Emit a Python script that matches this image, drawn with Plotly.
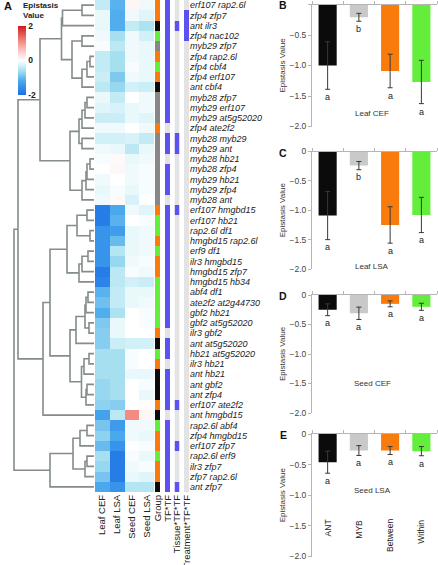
import plotly.graph_objects as go

W, H = 438, 565

# ---------------- data: heatmap (panel A) ----------------
row_labels = [
    "erf107 rap2.6l", "zfp4 zfp7", "ant ilr3", "zfp4 nac102", "myb29 zfp7",
    "zfp4 rap2.6l", "zfp4 cbf4", "zfp4 erf107", "ant cbf4", "myb28 zfp7",
    "myb29 erf107", "myb29 at5g52020", "zfp4 ate2f2", "myb28 myb29", "myb29 ant",
    "myb28 hb21", "myb28 zfp4", "myb29 hb21", "myb29 zfp4", "myb28 ant",
    "erf107 hmgbd15", "erf107 hb21", "rap2.6l df1", "hmgbd15 rap2.6l", "erf9 df1",
    "ilr3 hmgbd15", "hmgbd15 zfp7", "hmgbd15 hb34", "abf4 df1", "ate2f2 at2g44730",
    "gbf2 hb21", "gbf2 at5g52020", "ilr3 gbf2", "ant at5g52020", "hb21 at5g52020",
    "ilr3 hb21", "ant hb21", "ant gbf2", "ant zfp4", "erf107 ate2f2",
    "ant hmgbd15", "rap2.6l abf4", "zfp4 hmgbd15", "erf107 zfp7", "rap2.6l erf9",
    "ilr3 zfp7", "zfp7 rap2.6l", "ant zfp7",
]
heat_columns = ["Leaf CEF", "Leaf LSA", "Seed CEF", "Seed LSA"]
leaf_cef = [-0.4, -0.15, -0.15, -0.1, -0.05, -0.4, -0.4, -0.35, -0.45, -0.15,
            -0.2, -0.35, -0.1, -0.3, -0.1, -0.05, 0.0, -0.1, -0.15, -0.1,
            -1.8, -1.8, -1.5, -1.5, -1.5, -1.5, -1.8, -1.7, -1.1, -0.95,
            -1.15, -0.85, -0.8, -0.8, -0.6, -0.6, -0.6, -0.7, -0.7, -0.75,
            -1.3, -0.9, -0.75, -1.0, -0.6, -0.7, -0.9, -1.2]
leaf_lsa = [-1.1, -1.15, -1.15, -0.6, -0.45, -0.6, -0.6, -0.85, -0.7, -0.4,
            -0.25, -0.35, -0.1, -0.3, -0.15, 0.05, 0.08, 0.0, -0.05, 0.05,
            -1.2, -1.1, -1.35, -1.0, -0.5, -0.7, -0.45, -0.45, -0.4, -0.4,
            -0.55, -0.15, -0.15, -0.35, -0.6, -0.6, -0.6, -0.6, -0.6, -0.8,
            -0.45, -1.4, -1.2, -1.5, -1.8, -1.8, -1.8, -1.5]
seed_cef = [0.1, -0.1, -0.4, -0.1, -0.1, -0.1, -0.05, -0.1, -0.3, 0.0,
            -0.15, -0.15, 0.0, -0.25, -0.45, -0.15, -0.1, -0.1, -0.15, -0.25,
            -0.1, 0.0, -0.15, -0.15, -0.15, -0.1, -0.05, -0.3, -0.15, -0.15,
            0.0, 0.0, 0.0, -0.3, -0.05, -0.05, -0.15, 0.0, 0.0, 0.0,
            1.1, -0.1, -0.1, -0.02, -0.05, -0.1, -0.15, -0.5]
seed_lsa = [-0.1, -0.2, -0.55, -0.3, -0.15, -0.15, -0.15, -0.15, -0.35, -0.1,
            -0.1, -0.2, -0.1, -0.4, -0.15, -0.1, -0.05, -0.05, -0.05, 0.0,
            -0.2, -0.05, -0.1, -0.1, -0.1, -0.05, -0.1, -0.35, -0.15, -0.1,
            -0.05, -0.05, 0.0, -0.3, 0.0, 0.0, -0.15, -0.05, -0.15, 0.03,
            0.1, -0.1, -0.15, -0.05, -0.15, -0.05, -0.2, -0.5]
group = ["Between", "Between", "ANT", "Within", "MYB", "Between", "Within", "Between", "ANT", "MYB",
         "MYB", "MYB", "Between", "MYB", "MYB", "MYB", "MYB", "MYB", "MYB", "MYB",
         "Between", "Within", "Within", "Between", "Within", "Between", "Between", "Within", "Within", "Within",
         "Within", "Within", "Between", "ANT", "Within", "Between", "ANT", "ANT", "ANT", "Between",
         "ANT", "Within", "Between", "Between", "Within", "Between", "Between", "ANT"]
tf_tf = [1, 1, 1, 1, 1, 1, 1, 1, 1, 1, 1, 1, 0, 1, 1, 0, 1, 1, 1, 0,
         1, 1, 1, 1, 1, 1, 1, 1, 1, 1, 1, 1, 0, 1, 1, 0, 1, 1, 1, 1,
         0, 1, 1, 1, 1, 1, 1, 1]
tissue_tf_tf = [0, 0, 1, 0, 0, 0, 0, 0, 0, 0, 0, 0, 0, 1, 1, 0, 0, 0, 0, 0,
                1, 0, 0, 0, 0, 0, 0, 0, 0, 0, 0, 0, 0, 0, 0, 0, 0, 0, 0, 1,
                0, 0, 0, 1, 0, 0, 0, 1]
treatment_tf_tf = [0, 1, 1, 1, 0, 0, 0, 0, 0, 0, 0, 0, 0, 0, 0, 0, 0, 0, 0, 0,
                   0, 0, 0, 0, 0, 0, 0, 0, 0, 0, 0, 0, 0, 0, 0, 0, 0, 0, 0, 0,
                   0, 0, 0, 0, 0, 0, 0, 0]

# dendrogram: (height, left, right); leaves are 1-based row numbers
dendro_tree = (80,
    (76,
        (54,
            (32.5, (31.5, (12, 1, 2), 3),
                   (22, (12, 4, 5), (12, (7, (4, 6, 7), 8), 9))),
            (24, (15, (12, (9, (7, 10, 11), 12), 13), (12, 14, 15)),
                 (12, (8, (7, (4, 16, 17), 18), 19), 20))),
        (51,
            (44,
                (27, (17, (7, 21, 22), (4, 23, 24)),
                     (15, (12, (6, 25, 26), 27), 28)),
                (24, (18, (9, (8, (6, 29, 30), 31), (5, 32, 33)), 34),
                     (12.5, (10, (5, 35, 36), 37), (8, (7, 38, 39), 40)))),
            41)),
    (44, (21, (14, (7, 42, 43), 44), (9, (7, 45, 46), 47)), 48))

# ---------------- data: bar panels B-E ----------------
bar_categories = ["ANT", "MYB", "Between", "Within"]
panel_names = ["Leaf CEF", "Leaf LSA", "Seed CEF", "Seed LSA"]
panel_letters = ["B", "C", "D", "E"]
bar_means = [
    [-1.0, -0.21, -1.09, -1.27],
    [-1.09, -0.24, -1.25, -1.08],
    [-0.25, -0.31, -0.15, -0.20],
    [-0.46, -0.27, -0.27, -0.28],
]
bar_errors = [
    [0.39, 0.065, 0.275, 0.355],
    [0.41, 0.07, 0.31, 0.30],
    [0.10, 0.105, 0.05, 0.06],
    [0.18, 0.08, 0.065, 0.075],
]
bar_letters = [
    ["a", "b", "a", "a"],
    ["a", "b", "a", "a"],
    ["a", "a", "a", "a"],
    ["a", "a", "a", "a"],
]
y_ticks = [0, -0.5, -1.0, -1.5, -2.0]
y_ticktext = ["0", "\u22120.5", "\u22121.0", "\u22121.5", "\u22122.0"]
panel_title_y = [-1.78, -1.95, -1.5, -0.93]

# ---------------- styling ----------------
FONT = "Arial, Liberation Sans, sans-serif"
ORANGE = "#f97b0b"
GREEN = "#62ee3a"
BLACK = "#0b0b0b"
GROUPGRAY = "#878787"
MYBGRAY = "#c9c9c9"
BLUE = "#5b52ef"
BG = "#e3e3e3"
DENDRO = "#848c8c"
group_code = {"MYB": 0, "Between": 1, "Within": 2, "ANT": 3}
bar_colors = [BLACK, MYBGRAY, ORANGE, GREEN]


def px(x):
    return x / W


def py(y):
    return 1 - y / H


n = len(row_labels)
ydom = [py(492), py(0)]
yrange = [n - 0.5, -0.5]

fig = go.Figure()

# dendrogram
dx, dy = [], []


def walk(node):
    if isinstance(node, int):
        return node - 1, 0.0
    h, a, b = node
    ya, ha = walk(a)
    yb, hb = walk(b)
    dx.extend([ha, h, h, hb, None])
    dy.extend([ya, ya, yb, yb, None])
    return (ya + yb) / 2, h


walk(dendro_tree)
fig.add_trace(go.Scatter(x=dx, y=dy, mode="lines", line=dict(color=DENDRO, width=1.6),
                         hoverinfo="skip", showlegend=False, xaxis="x", yaxis="y"))

# main heatmap
z = [[leaf_cef[i], leaf_lsa[i], seed_cef[i], seed_lsa[i]] for i in range(n)]
cscale = [[0, "#1a6fe6"], [0.2, "#4aa8ec"], [0.35, "#a6e0f0"], [0.44, "#daf3f9"], [0.5, "#ffffff"],
          [0.6, "#fbd8d8"], [0.78, "#f28a80"], [1, "#d11b1f"]]
fig.add_trace(go.Heatmap(
    z=z, x=list(range(4)), y=list(range(n)), colorscale=cscale, zmin=-2, zmax=2,
    xaxis="x2", yaxis="y", hoverinfo="skip",
    colorbar=dict(x=px(18), xanchor="left", y=py(26), yanchor="top",
                  lenmode="pixels", len=69, thicknessmode="pixels", thickness=8,
                  xpad=0, ypad=0, outlinewidth=0, tickvals=[-2, 0, 2],
                  ticktext=["-2", "0", "2"], ticks="",
                  tickfont=dict(size=8.5, family=FONT, color="#222", weight="bold")),
))

# group column
fig.add_trace(go.Heatmap(
    z=[[group_code[g]] for g in group], x=[0], y=list(range(n)),
    colorscale=[[0, GROUPGRAY], [1 / 6, GROUPGRAY], [1 / 6, ORANGE], [0.5, ORANGE],
                [0.5, GREEN], [5 / 6, GREEN], [5 / 6, BLACK], [1, BLACK]],
    zmin=0, zmax=3, showscale=False, xaxis="x3", yaxis="y", hoverinfo="skip"))

bin_scale = [[0, BG], [0.5, BG], [0.5, BLUE], [1, BLUE]]
for vals, xa, ya in [(tf_tf, "x4", "y"), (tissue_tf_tf, "x5", "y"), (treatment_tf_tf, "x6", "y2")]:
    fig.add_trace(go.Heatmap(z=[[v] for v in vals], x=[0], y=list(range(n)),
                             colorscale=bin_scale, zmin=0, zmax=1, showscale=False,
                             xaxis=xa, yaxis=ya, hoverinfo="skip"))

# bar panels
bar_ydom_px = [(4.5, 126.5), (151.5, 269), (295, 413), (434, 556.5)]
for k in range(4):
    fig.add_trace(go.Bar(
        x=bar_categories, y=bar_means[k], width=0.58, marker=dict(color=bar_colors, line=dict(width=0)),
        error_y=dict(type="data", array=bar_errors[k], color="#383838", thickness=1, width=2.5),
        xaxis=f"x{7 + k}", yaxis=f"y{3 + k}", showlegend=False, hoverinfo="skip"))

layout = dict(
    width=W, height=H, margin=dict(l=0, r=0, t=0, b=0, autoexpand=False),
    paper_bgcolor="white", plot_bgcolor="white", showlegend=False,
    font=dict(family=FONT, color="#222"),
    xaxis=dict(domain=[0, px(94)], range=[94, 0], visible=False, anchor="y"),
    yaxis=dict(domain=ydom, range=yrange, visible=False, anchor="x"),
    yaxis2=dict(domain=ydom, range=yrange, anchor="x6", side="right",
                tickvals=list(range(n)), ticktext=[f"<i>{l}</i>" for l in row_labels],
                ticks="", showline=False, showgrid=False, zeroline=False,
                tickfont=dict(size=9, family=FONT, color="#222")),
)
col_axes = [
    ("xaxis2", (95, 154), [-0.5, 3.5], list(range(4)), heat_columns, "y"),
    ("xaxis3", (155, 160), [-0.5, 0.5], [0], ["Group"], "y"),
    ("xaxis4", (165, 170), [-0.5, 0.5], [0], ["TF*TF"], "y"),
    ("xaxis5", (174.5, 179.5), [-0.5, 0.5], [0], ["Tissue*TF*TF"], "y"),
    ("xaxis6", (184, 189), [-0.5, 0.5], [0], ["Treatment*TF*TF"], "y2"),
]
for name, (a, b), rng, tv, tt, anc in col_axes:
    layout[name] = dict(domain=[px(a), px(b)], range=rng, anchor=anc, tickvals=tv, ticktext=tt,
                        tickangle=-90, ticks="", showline=False, showgrid=False, zeroline=False,
                        tickfont=dict(size=9.5, family=FONT, color="#222"))

for k in range(4):
    top, bot = bar_ydom_px[k]
    layout[f"xaxis{7 + k}"] = dict(
        domain=[px(312), px(437)], anchor=f"y{3 + k}", side="top", type="category",
        categoryorder="array", categoryarray=bar_categories, range=[-0.5, 3.5],
        showticklabels=False, ticks="outside", tickson="boundaries", ticklen=3,
        tickcolor="#b5b5b5", showline=True, linecolor="#b5b5b5", linewidth=1, showgrid=False)
    layout[f"yaxis{3 + k}"] = dict(
        domain=[py(bot), py(top)], anchor=f"x{7 + k}", range=[-2.0, 0],
        tickvals=y_ticks, ticktext=y_ticktext, ticks="outside", ticklen=3, tickcolor="#b5b5b5",
        showline=True, linecolor="#b5b5b5", linewidth=1, showgrid=False, zeroline=False,
        tickfont=dict(size=8.5, family=FONT, color="#444"))

ann = []
ann.append(dict(text="<b>A</b>", x=px(2), y=py(6), xref="paper", yref="paper",
                xanchor="left", yanchor="middle", showarrow=False, font=dict(size=11, color="#111")))
ann.append(dict(text="<b>Epistasis<br>Value</b>", x=px(21), y=py(-1), xref="paper", yref="paper",
                xanchor="left", yanchor="top", align="left", showarrow=False,
                font=dict(size=8, color="#222")))
for k in range(4):
    top, bot = bar_ydom_px[k]
    xa, ya = f"x{7 + k}", f"y{3 + k}"
    ann.append(dict(text=f"<b>{panel_letters[k]}</b>", x=px(283), y=py(top + 1), xref="paper",
                    yref="paper", xanchor="center", yanchor="middle", showarrow=False,
                    font=dict(size=10.5, color="#111")))
    ann.append(dict(text="Epistasis Value", x=px(282), y=py((top + bot) / 2), xref="paper",
                    yref="paper", textangle=-90, xanchor="center", yanchor="middle",
                    showarrow=False, font=dict(size=8, color="#333")))
    ann.append(dict(text=panel_names[k], x=1.42, y=panel_title_y[k], xref=xa, yref=ya,
                    xanchor="center", yanchor="middle", showarrow=False,
                    font=dict(size=8, color="#333")))
    for j in range(4):
        ann.append(dict(text=bar_letters[k][j], x=j, y=bar_means[k][j] - bar_errors[k][j] - 0.13,
                        xref=xa, yref=ya, xanchor="center", yanchor="middle", showarrow=False,
                        font=dict(size=9, color="#222")))
    if k == 3:
        for j, c in enumerate(bar_categories):
            ann.append(dict(text=c, x=j, y=-1.36, xref=xa, yref=ya, textangle=-90,
                            xanchor="center", yanchor="top", showarrow=False,
                            font=dict(size=8.5, color="#222")))
layout["annotations"] = ann
fig.update_layout(**layout)
fig.write_html("out.html", config={"displayModeBar": False},
               post_script="document.body.style.margin='0';")
